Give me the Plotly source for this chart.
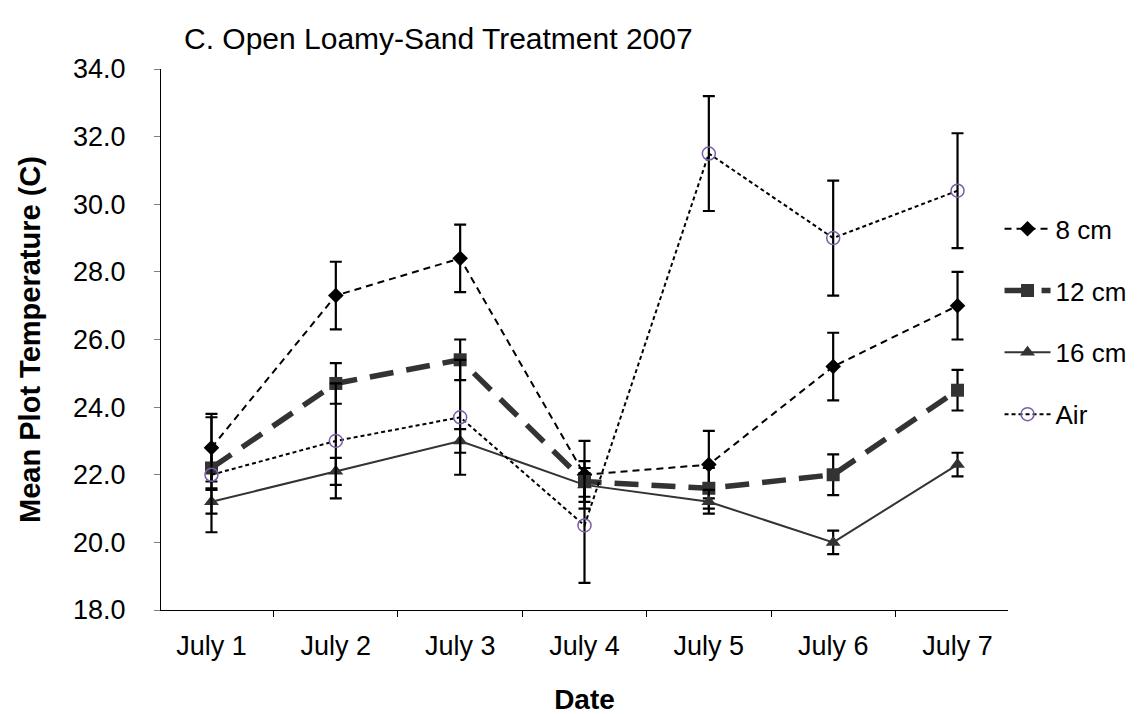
import plotly.graph_objects as go

# Data
dates = ["July 1", "July 2", "July 3", "July 4", "July 5", "July 6", "July 7"]

temp_8cm = [22.8, 27.3, 28.4, 22.0, 22.3, 25.2, 27.0]
err_8cm = [1.0, 1.0, 1.0, 1.0, 1.0, 1.0, 1.0]

temp_12cm = [22.2, 24.7, 25.4, 21.8, 21.6, 22.0, 24.5]
err_12cm = [0.6, 0.6, 0.6, 0.6, 0.6, 0.6, 0.6]

temp_16cm = [21.2, 22.1, 23.0, 21.7, 21.2, 20.0, 22.3]
err_16cm = [0.35, 0.4, 0.35, 0.35, 0.35, 0.35, 0.35]

temp_air = [22.0, 23.0, 23.7, 20.5, 31.5, 29.0, 30.4]
err_air = [1.7, 1.7, 1.7, 1.7, 1.7, 1.7, 1.7]

y_ticks = [18.0, 20.0, 22.0, 24.0, 26.0, 28.0, 30.0, 32.0, 34.0]

FONT = "Liberation Sans, Arial, sans-serif"
FS = 26

fig = go.Figure()

series = [
    # name, values, errors, line style, marker
    ("8 cm", temp_8cm, err_8cm,
     dict(color="black", width=2, dash="7px,5px"),
     dict(symbol="diamond", size=12, color="black")),
    ("12 cm", temp_12cm, err_12cm,
     dict(color="#333333", width=5.5, dash="24px,13px"),
     dict(symbol="square", size=13, color="#333333")),
    ("16 cm", temp_16cm, err_16cm,
     dict(color="#333333", width=2),
     dict(symbol="triangle-up", size=13, color="#333333")),
    ("Air", temp_air, err_air,
     dict(color="black", width=2, dash="4px,3px"),
     dict(symbol="circle-open", size=13, color="#7B5EA7", line=dict(width=1.5, color="#7B5EA7"))),
]

for name, vals, errs, line, marker in series:
    fig.add_trace(go.Scatter(
        x=dates, y=vals, name=name, legendgroup=name, mode="lines+markers",
        line=line, marker=marker,
        error_y=dict(type="data", array=errs, visible=True,
                     color="black", thickness=2.2, width=6),
    ))

fig.update_layout(
    width=1137, height=714,
    paper_bgcolor="white", plot_bgcolor="white",
    font=dict(family=FONT, size=FS, color="black"),
    margin=dict(l=153, r=137, t=61, b=112),
    title=dict(text="C. Open Loamy-Sand Treatment 2007", x=176 / 1137, xanchor="left",
               y=1 - 30 / 714, yanchor="middle", font=dict(size=30)),
    legend=dict(x=0.99, xanchor="left", y=0.748, yanchor="top",
                font=dict(size=FS), tracegroupgap=25, itemwidth=46,
                bgcolor="rgba(0,0,0,0)"),
    showlegend=True,
)

fig.update_xaxes(
    type="category", showline=True, linecolor="black", linewidth=1,
    ticks="outside", tickson="boundaries", ticklen=6, tickcolor="black",
    ticklabelstandoff=12,
    showgrid=False, zeroline=False, tickfont=dict(size=27),
    title=dict(text="<b>Date</b>", font=dict(size=28), standoff=28),
)
fig.update_yaxes(
    range=[18, 34], tickvals=y_ticks, tickformat=".1f",
    showline=True, linecolor="black", linewidth=1,
    ticks="outside", ticklen=6, tickcolor="gray",
    ticklabelstandoff=23,
    showgrid=False, zeroline=False, tickfont=dict(size=27),
    title=dict(text="<b>Mean Plot Temperature (C)</b>", font=dict(size=29), standoff=23),
)

fig.write_html("out.html")
